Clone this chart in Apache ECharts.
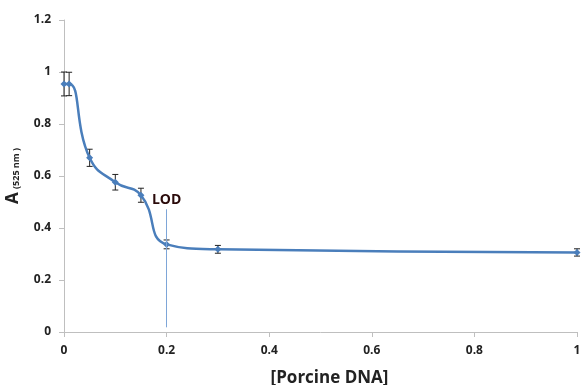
<!DOCTYPE html>
<html>
<head>
<meta charset="utf-8">
<script src="https://cdn.jsdelivr.net/npm/echarts@6/dist/echarts.min.js"></script>
<style>
  html, body { margin: 0; padding: 0; background: #fff; }
  #chart { width: 581px; height: 385px; }
</style>
</head>
<body>
<div id="chart"></div>
<script>
// porcine DNA concentration vs absorbance at 525 nm
const conc = [0, 0.01, 0.05, 0.1, 0.15, 0.2, 0.3, 1.0];
const absorb = [0.954, 0.954, 0.67, 0.576, 0.526, 0.337, 0.318, 0.306];
const errs = [0.046, 0.045, 0.033, 0.03, 0.027, 0.017, 0.015, 0.014];
const lodX = 0.2;
const lodRange = [0.472, 0.018];

const chart = echarts.init(document.getElementById("chart"));

const labelFont = { fontFamily: "Open Sans", fontWeight: "bold", fontSize: 12, color: "#222" };

const option = {
  animation: false,
  grid: { left: 64, right: 4, top: 20, bottom: 53, outerBoundsMode: "none", containLabel: false },
  xAxis: {
    type: "value",
    min: 0,
    max: 1,
    interval: 0.2,
    name: "[Porcine DNA]",
    nameLocation: "middle",
    nameGap: 38,
    nameTextStyle: { fontFamily: "Open Sans", fontWeight: "bold", fontSize: 17, color: "#222", padding: [0, 0, 0, 18] },
    axisLine: { lineStyle: { color: "#bfbfbf" } },
    axisTick: { show: true, length: 5, lineStyle: { color: "#bfbfbf" } },
    axisLabel: { ...labelFont, margin: 13, formatter: (v) => String(v) },
    splitLine: { show: false },
  },
  yAxis: {
    type: "value",
    min: 0,
    max: 1.2,
    interval: 0.2,
    name: "{a|A} {s|(525 nm )}",
    nameLocation: "middle",
    nameGap: 42,
    nameTextStyle: {
      rich: {
        a: { fontFamily: "Open Sans", fontWeight: "bold", fontSize: 17, color: "#222" },
        s: { fontFamily: "Open Sans", fontWeight: "bold", fontSize: 9, color: "#222", padding: [6, 0, 0, 0] },
      },
    },
    axisLine: { show: true, lineStyle: { color: "#bfbfbf" } },
    axisTick: { show: true, length: 5, lineStyle: { color: "#bfbfbf" } },
    axisLabel: { ...labelFont, margin: 13, formatter: (v) => String(v) },
    splitLine: { show: false },
  },
  series: [
    {
      type: "custom",
      z: 3,
      data: conc.map((x, i) => [x, absorb[i] - errs[i], absorb[i] + errs[i]]),
      renderItem: (params, api) => {
        const lo = api.coord([api.value(0), api.value(1)]);
        const hi = api.coord([api.value(0), api.value(2)]);
        const w = 3;
        const st = { stroke: "#222", lineWidth: 1 };
        return {
          type: "group",
          children: [
            { type: "line", shape: { x1: lo[0], y1: lo[1], x2: hi[0], y2: hi[1] }, style: st },
            { type: "line", shape: { x1: lo[0] - w, y1: lo[1], x2: lo[0] + w, y2: lo[1] }, style: st },
            { type: "line", shape: { x1: hi[0] - w, y1: hi[1], x2: hi[0] + w, y2: hi[1] }, style: st },
          ],
        };
      },
    },
    {
      type: "line",
      z: 4,
      data: conc.map((x, i) => [x, absorb[i]]),
      smooth: 0.5,
      symbol: "diamond",
      symbolSize: 7,
      itemStyle: { color: "#4a7ebb" },
      lineStyle: { color: "#4a7ebb", width: 2.5 },
      markLine: {
        silent: true,
        symbol: "none",
        lineStyle: { color: "#7ea6d8", width: 1, type: "solid" },
        label: {
          show: true,
          position: "start",
          formatter: "LOD",
          fontFamily: "Open Sans",
          fontWeight: "bold",
          fontSize: 14,
          color: "#2a0a0a",
          distance: 2,
        },
        data: [[{ coord: [lodX, lodRange[0]] }, { coord: [lodX, lodRange[1]] }]],
      },
    },
  ],
};

chart.setOption(option);
</script>
</body>
</html>
